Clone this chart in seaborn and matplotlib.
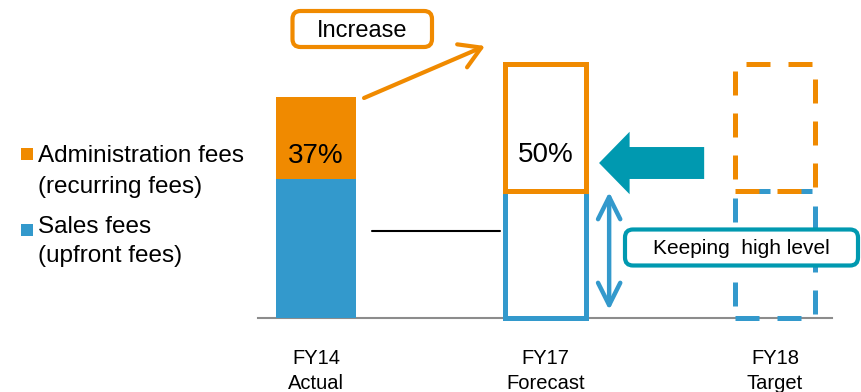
import matplotlib
matplotlib.use("Agg")
import matplotlib.pyplot as plt
import pandas as pd
import seaborn as sns
from matplotlib.patches import FancyBboxPatch, Rectangle
from matplotlib.transforms import IdentityTransform

# Fee structure by fiscal year (relative size of total fees, admin share)
periods = ["FY14\nActual", "FY17\nForecast", "FY18\nTarget"]
total_fees = [2.21, 2.54, 2.54]
admin_share = [0.37, 0.50, 0.50]
bar_styles = ["filled", "solid", "dashed"]

legend_lines = [("Administration fees", "(recurring fees)"),
                ("Sales fees", "(upfront fees)")]
increase_label = "Increase"
keep_label = "Keeping  high level"

ORANGE = "#F08A00"
BLUE = "#3399CC"
TEAL = "#0099B0"
GRAY = "#8C8C8C"

df = pd.DataFrame({"period": periods, "total": total_fees,
                   "share": admin_share, "style": bar_styles})
df["admin"] = df["total"] * df["share"]
df["sales"] = df["total"] - df["admin"]

sns.set_theme(style="white")
plt.rcParams["font.family"] = ["Liberation Sans", "DejaVu Sans"]
plt.rcParams["text.color"] = "black"

W, H = 862, 392
fig = plt.figure(figsize=(W / 100, H / 100), dpi=100)
ax = fig.add_axes([258 / W, (H - 318) / H, 574 / W, 318 / H])

LW = 3.6
DASH = (0, (4.8, 3.6))
BAR_W = 0.35

# lower segment: sales fees
sns.barplot(data=df, x="period", y="sales", order=periods, width=BAR_W,
            color=BLUE, saturation=1, errorbar=None, ax=ax)
sales_bars = ax.containers[-1]
# upper segment: administration fees, stacked on the sales segment
sns.barplot(data=df, x="period", y="admin", order=periods, width=BAR_W,
            color=ORANGE, saturation=1, errorbar=None, ax=ax,
            bottom=df["sales"].to_numpy())
admin_bars = ax.containers[-1]

for bars, col in ((sales_bars, BLUE), (admin_bars, ORANGE)):
    for patch, style in zip(bars, df["style"]):
        patch.set_zorder(3)
        patch.set_clip_on(False)
        if style == "filled":
            patch.set_facecolor(col)
            patch.set_linewidth(0)
        else:
            patch.set_facecolor("none")
            patch.set_edgecolor(col)
            patch.set_linewidth(LW)
            patch.set_linestyle(DASH if style == "dashed" else "-")
            patch.set_joinstyle("miter")

# share labels inside the administration segment
for i, row in df.iterrows():
    if row["style"] == "dashed":
        continue
    ax.text(i, row["sales"] + 0.28 * row["admin"], f"{row['share']:.0%}",
            ha="center", va="center", fontsize=20, color="black", zorder=4)

ax.set_xlim(-0.253, 2.248)
ax.set_ylim(0, 3.18)
ax.set_xlabel("")
ax.set_ylabel("")
ax.set_yticks([])
for side in ("left", "right", "top"):
    ax.spines[side].set_visible(False)
ax.spines["bottom"].set_color(GRAY)
ax.spines["bottom"].set_linewidth(1.5)
ax.tick_params(axis="x", length=0, pad=22, labelsize=14.5, colors="black")
for lab in ax.get_xticklabels():
    lab.set_linespacing(1.45)

# connector between FY14 and FY17
ax.plot([0.244, 0.802], [0.87, 0.87], color="black", lw=1.5, zorder=3)

# "Increase" arrow from the top of FY14
ax.annotate("", xy=(0.736, 2.72), xytext=(0.209, df["total"][0] - 0.01),
            arrowprops=dict(arrowstyle="->,head_length=0.75,head_width=0.45",
                            color=ORANGE, lw=3, shrinkA=0, shrinkB=0,
                            mutation_scale=20))

# block arrow pointing from the FY18 target back to FY17
ax.annotate("", xy=(1.233, 1.55), xytext=(1.691, 1.55),
            arrowprops=dict(arrowstyle="simple,head_length=2.2,head_width=4.5,tail_width=2.3",
                            fc=TEAL, ec="none", lw=0, shrinkA=0, shrinkB=0,
                            mutation_scale=10))

# double arrow spanning the sales segment height
ax.annotate("", xy=(1.277, 0.08), xytext=(1.277, df["sales"][1] - 0.01),
            arrowprops=dict(arrowstyle="<->,head_length=0.8,head_width=0.4",
                            color=BLUE, lw=3.2, shrinkA=0, shrinkB=0,
                            mutation_scale=20))


def callout(x0, y0, x1, y1, text, color, size, ty):
    box = FancyBboxPatch((x0, H - y1), x1 - x0, y1 - y0,
                         boxstyle="round,pad=0,rounding_size=8",
                         transform=IdentityTransform(), fc="white",
                         ec=color, lw=3, zorder=5)
    fig.add_artist(box)
    fig.text((x0 + x1) / 2 / W, 1 - ty / H, text, ha="center", va="center",
             fontsize=size, color="black", zorder=6)


callout(292.5, 11, 432, 47, increase_label, ORANGE, 17, 31)
callout(625, 229.5, 858, 265.5, keep_label, TEAL, 15, 249)

# legend
for (line1, line2), col, sq_top, base1, base2 in (
        (legend_lines[0], ORANGE, 148, 162, 193),
        (legend_lines[1], BLUE, 224, 233, 262)):
    fig.add_artist(Rectangle((20.5, H - sq_top - 12), 12, 12, fc=col, ec="none",
                             transform=IdentityTransform()))
    fig.text(38 / W, 1 - base1 / H, line1, fontsize=17.5, va="baseline",
             ha="left", color="black")
    fig.text(38 / W, 1 - base2 / H, line2, fontsize=17.5, va="baseline",
             ha="left", color="black")

fig.savefig("out.png", dpi=100)
